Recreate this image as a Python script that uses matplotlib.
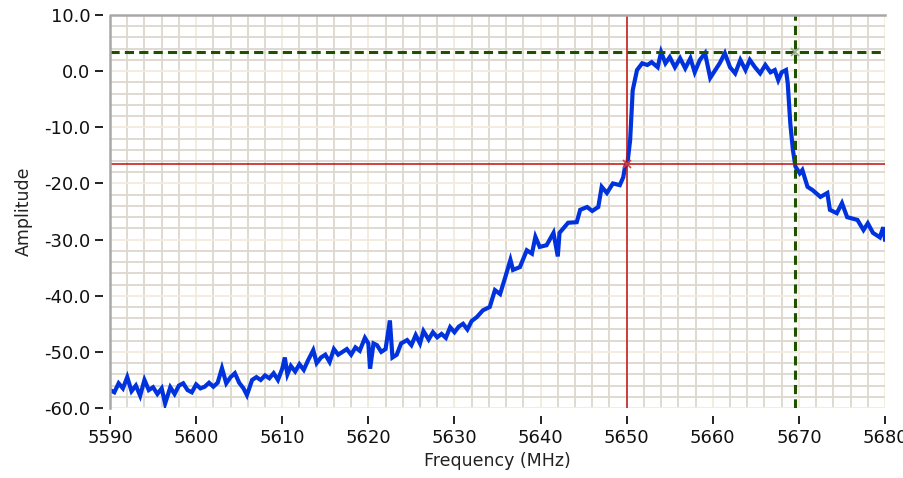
import numpy as np
import matplotlib
matplotlib.use('Agg')
import matplotlib.pyplot as plt
from matplotlib.ticker import MultipleLocator

# spectrum trace (MHz, dB)
freq = [5590.0, 5590.5, 5591.0, 5591.5, 5592.0, 5592.5, 5593.0, 5593.5, 5594.0, 5594.5,
        5595.0, 5595.5, 5596.0, 5596.4, 5597.0, 5597.5, 5598.0, 5598.5, 5599.0, 5599.5,
        5600.0, 5600.5, 5601.0, 5601.5, 5602.0, 5602.5, 5603.0, 5603.5, 5604.0, 5604.5,
        5605.0, 5605.5, 5605.9, 5606.5, 5607.0, 5607.5, 5608.0, 5608.5, 5609.0, 5609.5,
        5610.0, 5610.3, 5610.6, 5611.0, 5611.5, 5612.0, 5612.5, 5613.0, 5613.6, 5614.0,
        5614.5, 5615.0, 5615.5, 5616.0, 5616.5, 5617.0, 5617.5, 5618.0, 5618.5, 5619.0,
        5619.6, 5620.0, 5620.2, 5620.6, 5621.0, 5621.5, 5622.0, 5622.5, 5622.8, 5623.3,
        5623.8, 5624.5, 5625.0, 5625.5, 5626.0, 5626.4, 5627.0, 5627.5, 5628.0, 5628.5,
        5629.0, 5629.5, 5630.0, 5630.5, 5631.0, 5631.5, 5632.0, 5632.6, 5633.3, 5634.1,
        5634.7, 5635.3, 5635.9, 5636.5, 5636.8, 5637.6, 5638.4, 5639.0, 5639.4, 5639.9,
        5640.7, 5641.5, 5642.0, 5642.2, 5643.2, 5644.2, 5644.6, 5645.4, 5646.0, 5646.7,
        5647.1, 5647.7, 5648.4, 5649.2, 5649.6, 5649.8, 5650.1, 5650.4, 5650.7, 5651.2,
        5651.8, 5652.4, 5652.9, 5653.6, 5654.0, 5654.5, 5655.0, 5655.6, 5656.2, 5656.8,
        5657.4, 5657.9, 5658.5, 5659.1, 5659.7, 5660.3, 5660.8, 5661.4, 5662.0, 5662.6,
        5663.2, 5663.8, 5664.3, 5664.9, 5665.5, 5666.1, 5666.7, 5667.2, 5667.6, 5668.0,
        5668.5, 5668.7, 5669.0, 5669.3, 5669.6, 5670.1, 5670.4,
        5671.0, 5671.6, 5672.5, 5673.3, 5673.6, 5674.4, 5675.0, 5675.6, 5676.8, 5677.5,
        5678.0, 5678.6, 5679.4, 5679.8, 5680.0]
amp = [-56.8, -57.2, -55.6, -56.5, -54.5, -57.0, -56.0, -57.8, -55.0, -56.8,
       -56.3, -57.5, -56.5, -59.2, -56.3, -57.5, -56.0, -55.6, -56.8, -57.2,
       -55.8, -56.5, -56.2, -55.5, -56.2, -55.5, -52.9, -55.6, -54.5, -53.8,
       -55.5, -56.5, -57.7, -55.0, -54.5, -55.0, -54.2, -54.7, -53.8, -55.0,
       -53.0, -51.0, -54.0, -52.5, -53.5, -52.2, -53.2, -51.5, -49.7, -52.0,
       -51.0, -50.5, -51.8, -49.5, -50.5, -50.0, -49.5, -50.5, -49.2, -49.8,
       -47.5, -48.5, -53.0, -48.5, -48.8, -50.0, -49.5, -44.4, -51.0, -50.5,
       -48.5, -47.9, -48.8, -47.0, -48.5, -46.3, -47.8, -46.5, -47.4, -46.8,
       -47.5, -45.6, -46.5, -45.5, -45.0, -46.0, -44.5, -43.8, -42.6, -42.0,
       -39.0, -39.7, -36.7, -33.6, -35.4, -34.9, -31.9, -32.5, -29.5, -31.3,
       -31.0, -28.8, -33.0, -28.8, -27.0, -26.9, -24.7, -24.2, -24.9, -24.2,
       -20.6, -21.7, -20.0, -20.3, -18.9, -17.1, -16.2, -12.3, -3.4, 0.2,
       1.4, 1.1, 1.6, 0.7, 3.4, 1.4, 2.5, 0.7, 2.3, 0.5,
       2.3, -0.2, 2.0, 3.2, -1.2, 0.2, 1.4, 3.2, 0.7, -0.4,
       2.0, 0.2, 2.0, 0.7, -0.4, 1.1, -0.2, 0.2, -1.6, -0.2,
       0.2, -2.1, -9.3, -14.0, -17.0, -18.2, -17.6,
       -20.6, -21.2, -22.4, -21.7, -24.7, -25.3, -23.5, -26.0, -26.5, -28.3,
       -27.1, -28.8, -29.6, -27.8, -30.0]

# cursor positions (x, y)
cursor_red = (5650.0, -16.6)
cursor_green = (5669.6, 3.4)

x_ticks = [5590, 5600, 5610, 5620, 5630, 5640, 5650, 5660, 5670, 5680]
y_ticks = [-60, -50, -40, -30, -20, -10, 0, 10]

fig = plt.figure(figsize=(9.04, 4.78), dpi=100)
ax = fig.add_axes([0.1217, 0.1464, 0.9790 - 0.1217, 0.9686 - 0.1464])
ax.set_facecolor('white')

# grid: minor lines darker than the major ones (LabVIEW look)
ax.xaxis.set_major_locator(MultipleLocator(10))
ax.xaxis.set_minor_locator(MultipleLocator(2))
ax.yaxis.set_major_locator(MultipleLocator(10))
ax.yaxis.set_minor_locator(MultipleLocator(2))
ax.grid(which='minor', color='#dcd8cf', linewidth=1.3)
ax.grid(which='major', color='#f1ecdc', linewidth=1.3)
ax.set_axisbelow(True)

# trace
ax.plot(freq, amp, color='#0033dd', linewidth=3.0, solid_joinstyle='miter', zorder=3)

# cursors
ax.axvline(cursor_red[0], color='#c01010', linewidth=1.1, zorder=4)
ax.axhline(cursor_red[1], color='#c01010', linewidth=1.1, zorder=4)
ax.plot([cursor_red[0]], [cursor_red[1]], marker='x', color='#d04040', markersize=6, mew=1.2, zorder=5)
ax.axvline(cursor_green[0], color='#1f5200', linewidth=2.2, linestyle=(0, (3, 1.7)), zorder=4)
ax.axhline(cursor_green[1], color='#1f5200', linewidth=2.2, linestyle=(0, (3, 1.7)), zorder=4)
ax.plot([cursor_green[0]], [cursor_green[1]], marker='x', color='#9aab90', markersize=6, mew=1.2, zorder=5)

ax.set_xlim(5590, 5680)
ax.set_ylim(-60, 10)
ax.set_xticks(x_ticks)
ax.set_yticks(y_ticks)
ax.set_xticklabels([str(v) for v in x_ticks])
ax.set_yticklabels(['%.1f' % v for v in y_ticks])

# ticks live on spines moved outward, grey frame drawn on the plot edge
for s in ['right', 'top']:
    ax.spines[s].set_visible(False)
ax.spines['left'].set_position(('outward', 5))
ax.spines['bottom'].set_position(('outward', 6))
ax.spines['left'].set_color('none')
ax.spines['bottom'].set_color('none')
ax.plot([0, 0, 1], [0, 1, 1], transform=ax.transAxes, color='#a8a8a8',
        linewidth=1.8, clip_on=False, zorder=6)

ax.tick_params(axis='both', which='major', direction='out', length=6, width=1.4,
               color='#222222', labelsize=13, labelcolor='#111111')
ax.tick_params(axis='both', which='minor', length=0)
ax.tick_params(axis='y', pad=3)
ax.tick_params(axis='x', pad=3)

ax.set_xlabel('Frequency (MHz)', fontsize=12.5, color='#222222', labelpad=4)
ax.set_ylabel('Amplitude', fontsize=12.5, color='#222222', labelpad=8)

plt.savefig('out.png', dpi=100)
